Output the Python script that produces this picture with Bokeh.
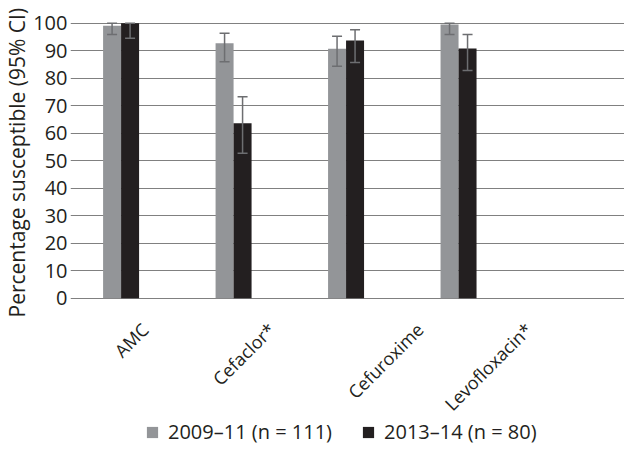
import math
import numpy as np
from bokeh.plotting import figure
from bokeh.models import (ColumnDataSource, Range1d, FixedTicker, Whisker, TeeHead,
                          Legend, LegendItem, Label, Title)
from bokeh.transform import dodge
from bokeh.embed import file_html
from bokeh.resources import INLINE

# ---- data ----
categories = ["AMC", "Cefaclor*", "Cefuroxime", "Levofloxacin*"]
series_names = ["2009\u201311 (n = 111)", "2013\u201314 (n = 80)"]
pct_2009 = [99.1, 92.7, 90.7, 99.5]
lo_2009 = [95.9, 86.0, 84.4, 95.9]
hi_2009 = [100.0, 96.4, 95.3, 100.0]
pct_2013 = [100.0, 63.6, 93.7, 90.8]
lo_2013 = [94.5, 52.7, 85.7, 82.8]
hi_2013 = [100.0, 73.3, 97.6, 95.9]
y_ticks = [0, 10, 20, 30, 40, 50, 60, 70, 80, 90, 100]
y_title = "Percentage susceptible (95% CI)"

# ---- style / layout ----
FONT = "Open Sans"
TEXT = "#231f20"
GRAY = "#939598"
BLACK = "#231f20"
ERR = "#6d6e71"
GRID = "#808080"
BAR_W = 0.16
OFF = 0.08
W, H = 624, 445
TOP = 20            # px above the value 101
ZERO_Y = 297.7      # px from top where value 0 sits
Y_MAX = 101
PX_PER_Y = (ZERO_Y - TOP) / Y_MAX
Y_START = -(H - ZERO_Y) / PX_PER_Y
CAT_PX = 113.3      # px per category slot
LEFT = 66           # frame left (px)
X_START = (LEFT - 60.3) / CAT_PX
X_END = X_START + (W - LEFT) / CAT_PX
label_dx = [24, 38, 74, 70]   # px shift of each rotated label's end from its category centre
LABEL_DROP = 28
TITLE_START = 317   # px from top where the y title begins (bottom end)

centers = np.arange(len(categories)) + 0.5
src = ColumnDataSource(dict(x=centers, a=pct_2009, alo=lo_2009, ahi=hi_2009,
                            b=pct_2013, blo=lo_2013, bhi=hi_2013))

p = figure(width=W, height=H, output_backend="svg", toolbar_location=None,
           x_range=Range1d(X_START, X_END), y_range=Range1d(Y_START, Y_MAX),
           x_axis_location=None,
           min_border_top=TOP, min_border_bottom=0, min_border_right=0,
           min_border_left=LEFT)
p.outline_line_color = None

r1 = p.vbar(x=dodge("x", -OFF), top="a", width=BAR_W, source=src,
            fill_color=GRAY, line_color=None)
r2 = p.vbar(x=dodge("x", OFF), top="b", width=BAR_W, source=src,
            fill_color=BLACK, line_color=None)

for base_off, lo, hi in [(-OFF, "alo", "ahi"), (OFF, "blo", "bhi")]:
    w = Whisker(source=src, base=dodge("x", base_off), lower=lo, upper=hi,
                line_color=ERR, line_width=1.5, level="annotation",
                upper_head=TeeHead(size=10, line_color=ERR, line_width=1.5),
                lower_head=TeeHead(size=10, line_color=ERR, line_width=1.5))
    p.add_layout(w)

# rotated category labels
for cx, name, dx in zip(centers, categories, label_dx):
    p.add_layout(Label(x=cx, y=0, x_offset=dx, y_offset=-LABEL_DROP, text=name,
                       angle=math.pi / 4, text_align="right", text_baseline="middle",
                       text_font=FONT, text_font_size="18px", text_color=TEXT))

p.xgrid.visible = False
p.ygrid.grid_line_color = GRID
p.ygrid.grid_line_width = 1.2
p.yaxis.ticker = FixedTicker(ticks=y_ticks)
p.yaxis.axis_line_color = None
p.yaxis.major_tick_line_color = None
p.yaxis.minor_tick_line_color = None
p.yaxis.major_tick_out = 0
p.yaxis.minor_tick_out = 0
p.yaxis.major_label_text_font = FONT
p.yaxis.major_label_text_font_size = "20px"
p.yaxis.major_label_text_color = TEXT
p.yaxis.major_label_standoff = 3

# y-axis title (vertical, starting near the bottom of the 0-100 area)
p.add_layout(Title(text=y_title, align="left", offset=H - TITLE_START,
                   standoff=0, text_font=FONT, text_font_size="21px",
                   text_font_style="normal", text_color=TEXT), "left")

legend = Legend(items=[LegendItem(label=series_names[0], renderers=[r1]),
                       LegendItem(label=series_names[1], renderers=[r2])],
                orientation="horizontal", location=(141 - LEFT, 0),
                label_text_font=FONT, label_text_font_size="20px",
                label_text_color=TEXT, glyph_width=14, glyph_height=14,
                label_height=20, label_standoff=9, spacing=29, padding=0, margin=0,
                border_line_color=None, background_fill_alpha=0)
p.add_layout(legend, "center")

open("out.html", "w").write(file_html(p, INLINE))
